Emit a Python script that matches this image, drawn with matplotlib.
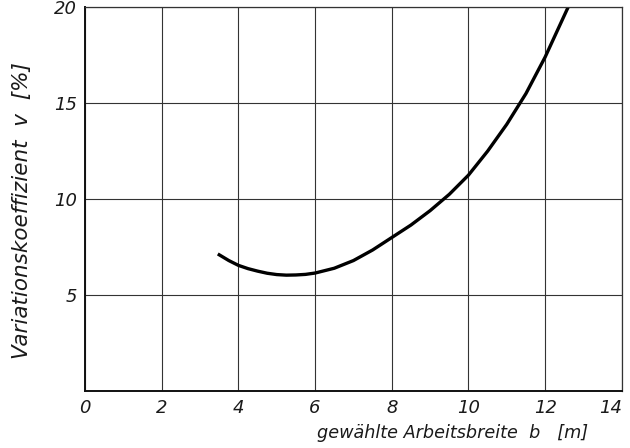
import matplotlib
matplotlib.use("Agg")
import matplotlib.pyplot as plt

# values
breite = [3.5, 3.75, 4.0, 4.25, 4.5, 4.75, 5.0, 5.25, 5.5, 5.75, 6.0, 6.5, 7.0,
          7.5, 8.0, 8.5, 9.0, 9.5, 10.0, 10.5, 11.0, 11.5, 12.0, 12.3, 12.6]
variation = [7.1, 6.8, 6.55, 6.38, 6.25, 6.14, 6.07, 6.04, 6.05, 6.08, 6.15, 6.4, 6.8,
             7.35, 8.0, 8.65, 9.4, 10.25, 11.25, 12.5, 13.9, 15.5, 17.4, 18.7, 20.0]

x_ticks = [0, 2, 4, 6, 8, 10, 12, 14]
y_ticks = [5, 10, 15, 20]

fig = plt.figure(figsize=(6.3, 4.48), dpi=100)
ax = fig.add_axes([0.135, 0.127, 0.852, 0.857])

ax.plot(breite, variation, color="black", lw=2.4, solid_joinstyle="round")

ax.set_xlim(0, 14)
ax.set_ylim(0, 20)
ax.set_xticks(x_ticks)
ax.set_yticks(y_ticks)
ax.set_xticklabels([str(t) for t in x_ticks], fontstyle="italic", fontsize=13)
ax.set_yticklabels([str(t) for t in y_ticks], fontstyle="italic", fontsize=13)
ax.get_xticklabels()[-1].set_horizontalalignment("right")
ax.tick_params(length=0, pad=6, colors="#1a1a1a")

ax.grid(True, color="#333333", lw=0.8)
for side in ["top", "right"]:
    ax.spines[side].set_linewidth(0.9)
    ax.spines[side].set_color("#333333")
for side in ["left", "bottom"]:
    ax.spines[side].set_linewidth(1.4)
    ax.spines[side].set_color("#111111")

ax.set_ylabel("Variationskoeffizient  v  [%]", fontstyle="italic", fontsize=15.5,
              color="#1a1a1a")
ax.yaxis.set_label_coords(-0.099, 0.47)
ax.set_xlabel("gewählte Arbeitsbreite  b   [m]", fontstyle="italic", fontsize=12.7,
              color="#1a1a1a")
ax.xaxis.set_label_coords(0.684, -0.085)

fig.savefig("out.png", dpi=100)
